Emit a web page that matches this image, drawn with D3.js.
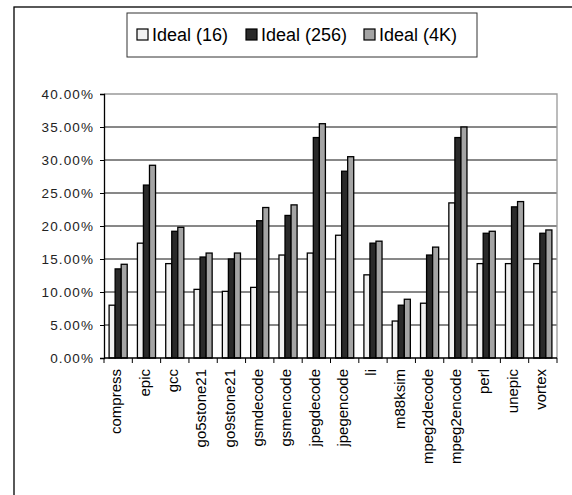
<!DOCTYPE html>
<html><head><meta charset="utf-8">
<script src="https://cdn.jsdelivr.net/npm/d3@7"></script>
<style>body{margin:0;background:#fff}svg{display:block}text{font-family:"Liberation Sans",Arial,sans-serif}</style>
</head><body>
<svg id="c" width="572" height="495"></svg>
<script>
const categories = ["compress","epic","gcc","go5stone21","go9stone21","gsmdecode","gsmencode","jpegdecode","jpegencode","li","m88ksim","mpeg2decode","mpeg2encode","perl","unepic","vortex"];
const seriesNames = ["Ideal (16)","Ideal (256)","Ideal (4K)"];
const ideal16  = [8.0,17.4,14.3,10.4,10.1,10.7,15.6,15.9,18.6,12.6,5.6,8.3,23.5,14.3,14.3,14.3];
const ideal256 = [13.5,26.2,19.2,15.3,15.0,20.8,21.6,33.4,28.3,17.4,8.0,15.6,33.4,18.9,22.9,18.9];
const ideal4k  = [14.2,29.2,19.8,15.9,15.9,22.8,23.2,35.5,30.5,17.7,8.9,16.8,35.0,19.2,23.7,19.4];
const yTicks = [0,5,10,15,20,25,30,35,40];
const colors = ["#f0f0f0","#2a2a2a","#a4a4a4"];
const series = [ideal16, ideal256, ideal4k];

const svg = d3.select("#c");
const x0 = 104, x1 = 557, yTop = 94, yBot = 358;

// outer frame
svg.append("rect").attr("x",14).attr("y",7).attr("width",700).attr("height",700)
  .attr("fill","none").attr("stroke","#000").attr("stroke-width",1.3);

const x = d3.scaleBand().domain(categories).range([x0,x1]).paddingInner(0.36).paddingOuter(0.18);
const xs = d3.scaleBand().domain(d3.range(3)).range([0,x.bandwidth()]);
const y = d3.scaleLinear().domain([0,40]).range([yBot,yTop]);

// gridlines
svg.append("g").selectAll("line").data(yTicks.filter(t=>t>0 && t<40)).join("line")
  .attr("x1",x0).attr("x2",x1).attr("y1",d=>y(d)).attr("y2",d=>y(d))
  .attr("stroke","#111").attr("stroke-width",1);
// plot border top/right
svg.append("path").attr("d",`M${x0},${y(40)}H${x1}V${yBot}`).attr("fill","none").attr("stroke","#999").attr("stroke-width",1.3);

// bars
const g = svg.append("g");
categories.forEach((c,i)=>{
  series.forEach((s,j)=>{
    g.append("rect").attr("x",x(c)+xs(j)).attr("y",y(s[i]))
      .attr("width",xs.bandwidth()).attr("height",y(0)-y(s[i]))
      .attr("fill",colors[j]).attr("stroke","#000").attr("stroke-width",1.3);
  });
});

// y axis
const yAxis = d3.axisLeft(y).tickValues(yTicks).tickSize(4).tickFormat(d=>d3.format(".2f")(d)+"%");
const ya = svg.append("g").attr("transform",`translate(${x0},0)`).call(yAxis);
ya.select(".domain").attr("stroke","#000").attr("stroke-width",1.3);
ya.selectAll(".tick line").attr("stroke","#000");
ya.selectAll(".tick text").attr("x",-10).attr("fill","#222").style("font-size","13.5px").style("letter-spacing","1.1px");

// x axis baseline + boundary ticks
svg.append("line").attr("x1",x0).attr("x2",x1).attr("y1",yBot).attr("y2",yBot).attr("stroke","#000").attr("stroke-width",1.3);
const step = x.step();
svg.append("g").selectAll("line").data(d3.range(categories.length+1)).join("line")
  .attr("x1",i=>x0+i*step).attr("x2",i=>x0+i*step).attr("y1",yBot).attr("y2",yBot+5)
  .attr("stroke","#000");
svg.append("g").selectAll("text").data(categories).join("text")
  .attr("transform",d=>`translate(${x(d)+x.bandwidth()/2-2},${yBot+11}) rotate(-90)`)
  .attr("text-anchor","end").attr("dy","0.35em").style("font-size","15px").attr("fill","#000")
  .text(d=>d);

// legend
const lg = svg.append("g");
lg.append("rect").attr("x",127).attr("y",13).attr("width",350).attr("height",44).attr("fill","#fff").attr("stroke","#333").attr("stroke-width",1);
const lx = [137,246,364];
seriesNames.forEach((n,j)=>{
  lg.append("rect").attr("x",lx[j]).attr("y",29).attr("width",11).attr("height",11).attr("fill",colors[j]).attr("stroke","#000").attr("stroke-width",1.2);
  lg.append("text").attr("x",lx[j]+15).attr("y",41).style("font-size","18px").attr("fill","#000").text(n);
});
</script>
</body></html>
